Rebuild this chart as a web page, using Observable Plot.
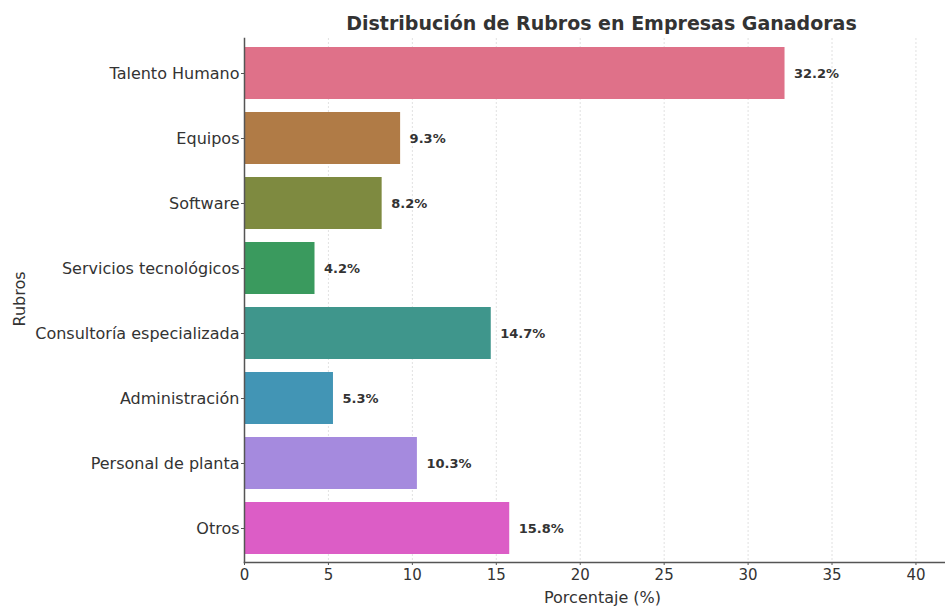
<!DOCTYPE html>
<html><head><meta charset="utf-8">
<script src="https://cdn.jsdelivr.net/npm/d3@7"></script>
<script src="https://cdn.jsdelivr.net/npm/@observablehq/plot@0.6"></script>
<style>body{margin:0;background:#fff;font-family:"DejaVu Sans",sans-serif}</style>
</head><body><div id="chart"></div>
<script>
const categories = ["Talento Humano","Equipos","Software","Servicios tecnológicos","Consultoría especializada","Administración","Personal de planta","Otros"];
const values = [32.2, 9.3, 8.2, 4.2, 14.7, 5.3, 10.3, 15.8];
const colors = ["#df7189","#b07b46","#7e8a40","#3a9a5e","#3f968c","#4295b5","#a58ade","#dc5dc6"];
const xTicks = [0,5,10,15,20,25,30,35,40];
const title = "Distribución de Rubros en Empresas Ganadoras";
const xLabel = "Porcentaje (%)";
const yLabel = "Rubros";

const data = categories.map((c,i)=>({cat:c, val:values[i], color:colors[i]}));

const chart = Plot.plot({
  width: 945, height: 608,
  marginLeft: 244, marginTop: 38, marginRight: 1, marginBottom: 46,
  style: {fontFamily: "'DejaVu Sans', sans-serif", fontSize: "15px", color: "#333", background: "#fff"},
  x: {domain: [0, 41.7], ticks: xTicks, label: null},
  y: {domain: categories, paddingInner: 0.2, paddingOuter: 0.1, label: null},
  marks: [
    Plot.ruleX(xTicks.slice(1), {stroke: "#d9d9d9", strokeDasharray: "2,2", strokeWidth: 0.8}),
    Plot.barX(data, {x: "val", y: "cat", fill: "color"}),
    Plot.text(data, {x: "val", y: "cat", text: d => d.val.toFixed(1) + "%", textAnchor: "start", dx: 9, fontWeight: "bold", fontSize: 13, fill: "#333"}),
    Plot.axisX({ticks: xTicks, tickSize: 3, tickPadding: 4, fontSize: 15, label: null, stroke: "#555"}),
    Plot.axisY({tickSize: 3, tickPadding: 2, fontSize: 16, label: null, stroke: "#555"}),
    Plot.frame({anchor: "left", stroke: "#555", strokeWidth: 1.5}),
    Plot.frame({anchor: "bottom", stroke: "#555", strokeWidth: 1.5}),
    Plot.text([title], {frameAnchor: "top", dy: -22, fontWeight: "bold", fontSize: 19, fill: "#333", dx: 7}),
    Plot.text([xLabel], {frameAnchor: "bottom", dy: 40, fontSize: 16, fill: "#333", dx: 8}),
    Plot.text([yLabel], {frameAnchor: "left", dx: -225, dy: 26, rotate: -90, fontSize: 16, fill: "#333"})
  ]
});
document.getElementById("chart").appendChild(chart);
</script></body></html>
